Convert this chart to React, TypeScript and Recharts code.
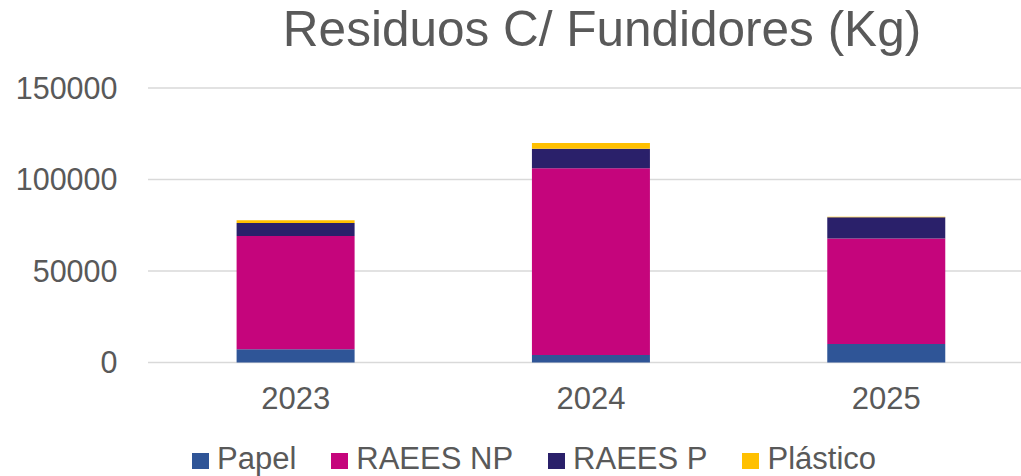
import React from "react";
import { BarChart, Bar, XAxis, YAxis, CartesianGrid, Legend } from "recharts";

const categories = ["2023", "2024", "2025"];
const papel = [7300, 4100, 10100];
const raeesNP = [61800, 102000, 57600];
const raeesP = [7100, 10700, 11700];
const plastico = [1600, 3100, 300];
const yTicks = [0, 50000, 100000, 150000];

const seriesDefs = [
  { key: "Papel", color: "#2F5597", values: papel },
  { key: "RAEES NP", color: "#C5057C", values: raeesNP },
  { key: "RAEES P", color: "#2A206A", values: raeesP },
  { key: "Plástico", color: "#FFC000", values: plastico },
];

const data = categories.map((c, i) => {
  const row: Record<string, string | number> = { year: c };
  seriesDefs.forEach((s) => {
    row[s.key] = s.values[i];
  });
  return row;
});

const FONT = "'Liberation Sans', Arial, sans-serif";
const TEXT = "#595959";

const LegendContent = () => (
  <div
    style={{
      display: "flex",
      alignItems: "flex-start",
      height: 36,
      paddingLeft: 192,
      fontFamily: FONT,
      fontSize: 31,
      lineHeight: "36px",
      color: TEXT,
    }}
  >
    {seriesDefs.map((s) => (
      <div key={s.key} style={{ display: "flex", alignItems: "flex-start", marginRight: 35 }}>
        <span
          style={{
            display: "inline-block",
            width: 17,
            height: 16,
            background: s.color,
            marginRight: 8,
            marginTop: 12,
          }}
        />
        <span style={{ whiteSpace: "nowrap" }}>{s.key}</span>
      </div>
    ))}
  </div>
);

export default function App() {
  return (
    <div
      style={{
        position: "absolute",
        left: 0,
        top: 0,
        width: 1021,
        height: 476,
        overflow: "hidden",
        background: "#fff",
      }}
    >
      <div
        style={{
          position: "absolute",
          left: 0,
          top: 1,
          width: 1204,
          textAlign: "center",
          fontFamily: FONT,
          fontSize: 49.5,
          color: TEXT,
          lineHeight: "56px",
          whiteSpace: "nowrap",
          zIndex: 2,
        }}
      >
        Residuos C/ Fundidores (Kg)
      </div>
      <BarChart
        width={1040}
        height={476}
        data={data}
        margin={{ top: 88, right: 6, bottom: 37.5, left: 0 }}
        barCategoryGap="30%"
      >
        <CartesianGrid vertical={false} stroke="#d9d9d9" strokeWidth={1.5} />
        <XAxis
          dataKey="year"
          axisLine={false}
          tickLine={false}
          height={40}
          tickMargin={18}
          tick={{ fill: TEXT, fontSize: 31, fontFamily: FONT }}
        />
        <YAxis
          domain={[0, 150000]}
          ticks={yTicks}
          axisLine={false}
          tickLine={false}
          width={148}
          tickMargin={24.5}
          tick={{ fill: TEXT, fontSize: 30.5, fontFamily: FONT }}
        />
        <Legend
          content={<LegendContent />}
          verticalAlign="bottom"
          wrapperStyle={{ top: 440.6, bottom: "auto", left: 0, width: 1021, height: 36 }}
        />
        {seriesDefs.map((s) => (
          <Bar key={s.key} dataKey={s.key} stackId="a" fill={s.color} isAnimationActive={false} />
        ))}
      </BarChart>
    </div>
  );
}
